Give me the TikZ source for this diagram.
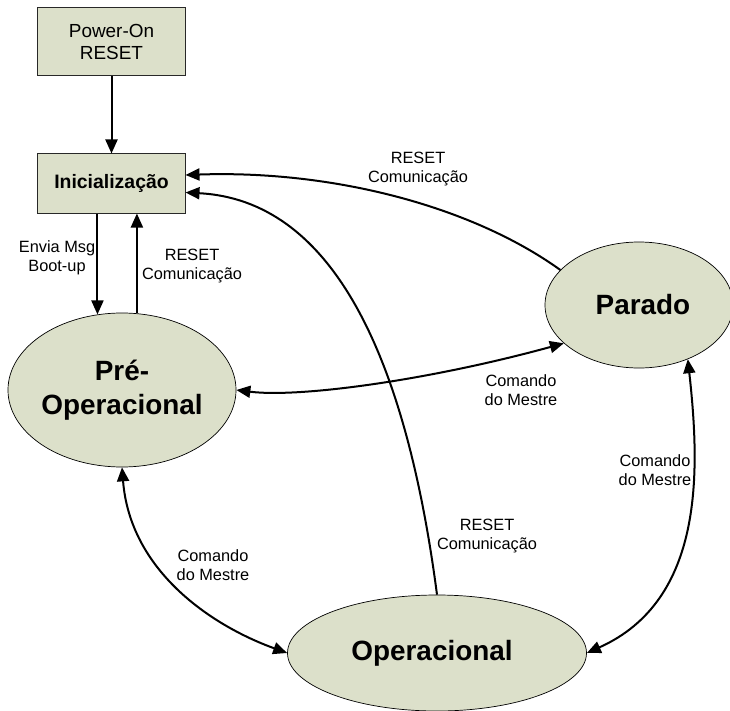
\documentclass[tikz,border=0pt]{standalone}
\usepackage{fontspec}
\setmainfont{Liberation Sans}
\usetikzlibrary{shapes.geometric,arrows.meta}
\definecolor{statefill}{RGB}{220,224,202}
\definecolor{edgegray}{RGB}{40,40,40}
\begin{document}
\begin{tikzpicture}[x=1bp,y=-1bp,
  box/.style={draw=edgegray,line width=1bp,fill=statefill,rectangle,inner sep=0pt,align=center},
  state/.style={draw=black,line width=0.7bp,fill=statefill,ellipse,inner sep=0pt,align=center,
    font=\fontsize{28}{34}\selectfont\bfseries},
  arr/.style={line width=2bp,-{Triangle[length=14bp,width=12bp]}},
  darr/.style={line width=2bp,{Triangle[length=14bp,width=12bp]}-{Triangle[length=14bp,width=12bp]}},
  lbl/.style={align=center,inner sep=0pt,font=\fontsize{16.4}{19.5}\selectfont}]
\useasboundingbox (0,0) rectangle (730,711);

% states
\node[box,minimum width=147bp,minimum height=68bp,font=\fontsize{19}{23}\selectfont]
  (power) at (111.5,42) {Power-On\\RESET};
\node[box,minimum width=147bp,minimum height=59bp,font=\fontsize{19.5}{23}\selectfont\bfseries]
  (init) at (111.5,183.5) {Inicialização};
\node[state,minimum width=217bp,minimum height=154bp] (pre) at (122,390) {Pré-\\Operacional};
\node[state,minimum width=188bp,minimum height=126bp] (parado) at (639,305) {\hspace*{8bp}Parado};
\node[state,minimum width=299bp,minimum height=116bp] (oper) at (437,653) {\hspace*{-10bp}Operacional};

% transitions
\draw[arr] (power) -- (init);
\draw[arr] (init.south -| pre.108) -- (pre.108);
\draw[arr] (pre.79) -- (pre.79 |- init.south);

\draw[darr] (pre.east) .. controls (300,398) and (430,380) .. (parado.207);
\draw[arr] (parado.156) .. controls (470,205) and (330,170) .. ([yshift=8.5bp]init.east);
\draw[arr] (oper.north) .. controls (405,350) and (330,200) .. ([yshift=-9bp]init.east);
\draw[darr] (pre.south) .. controls (130,570) and (210,625) .. (oper.west);
\draw[darr] (parado.-48) .. controls (700,470) and (705,600) .. (oper.east);

% labels
\node[lbl] (lenv) at (57,258) {Envia Msg\\Boot-up};
\node[lbl] (lrst1) at (192,266) {RESET\\Comunicação};
\node[lbl] (lrst2) at (418,169) {RESET\\Comunicação};
\node[lbl] (lcmd1) at (521,390) {Comando\\do Mestre};
\node[lbl] (lrst3) at (487,536) {RESET\\Comunicação};
\node[lbl] (lcmd2) at (213,565) {Comando\\do Mestre};
\node[lbl] (lcmd3) at (655,470) {Comando\\do Mestre};
\end{tikzpicture}
\end{document}
